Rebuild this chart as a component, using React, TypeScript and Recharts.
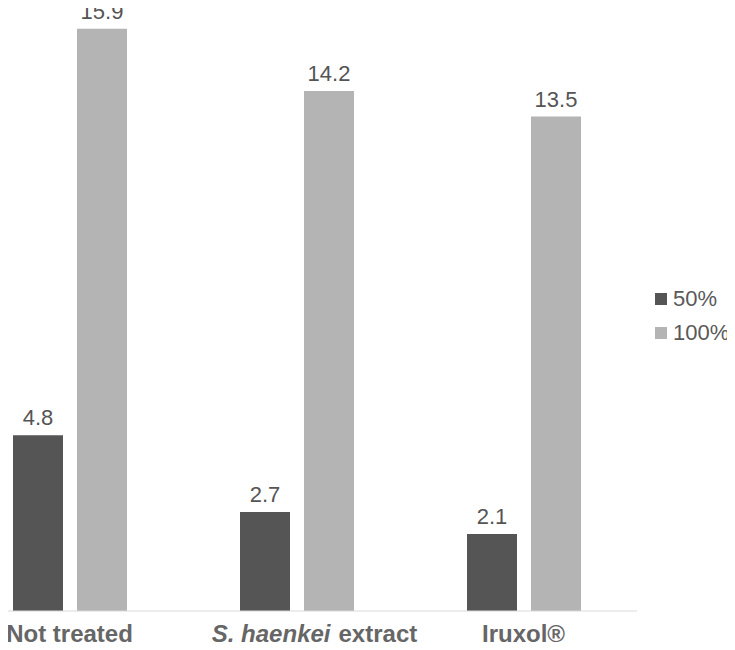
import { Bar, BarChart, LabelList, XAxis, YAxis } from "recharts";

const categories = ["Not treated", "S. haenkei extract", "Iruxol®"];
const half = [4.8, 2.7, 2.1];
const full = [15.9, 14.2, 13.5];

const seriesNames = ["50%", "100%"];
const seriesColors = ["#555555", "#b4b4b4"];

const data = categories.map((name, i) => ({
  name,
  half: half[i],
  full: full[i],
}));

const font = "'Liberation Sans', Arial, sans-serif";

function CategoryTick({ x, y, payload }: any) {
  const label: string = payload.value;
  const common = {
    y,
    dy: "0.71em",
    textAnchor: "middle" as const,
    fontFamily: font,
    fontSize: 24,
    fontWeight: 700,
    fill: "#666666",
  };
  if (label.startsWith("S. haenkei")) {
    return (
      <text x={x + 18} {...common}>
        <tspan fontStyle="italic">S. haenkei</tspan>
        <tspan dx={8}>extract</tspan>
      </text>
    );
  }
  return (
    <text x={x} {...common}>
      {label}
    </text>
  );
}

export default function App() {
  return (
    <div
      style={{
        margin: -8,
        width: 735,
        height: 650,
        overflow: "hidden",
        position: "relative",
        background: "#fff",
        fontFamily: font,
      }}
    >
      <div style={{ marginLeft: -44 }}>
        <BarChart
          width={779}
          height={650}
          data={data}
          barSize={50}
          barGap={14}
          margin={{ top: 25, right: 98, left: 0, bottom: 0 }}
        >
          <XAxis
            dataKey="name"
            height={39}
            axisLine={{ stroke: "#d9d9d9", strokeWidth: 1 }}
            tickLine={false}
            tickSize={0}
            tickMargin={14}
            interval={0}
            tick={<CategoryTick />}
          />
          <YAxis hide domain={[0, 16]} />
          <Bar
            dataKey="half"
            name={seriesNames[0]}
            fill={seriesColors[0]}
            isAnimationActive={false}
          >
            <LabelList
              dataKey="half"
              position="top"
              offset={10}
              fill="#555555"
              fontSize={22}
              fontFamily={font}
            />
          </Bar>
          <Bar
            dataKey="full"
            name={seriesNames[1]}
            fill={seriesColors[1]}
            isAnimationActive={false}
          >
            <LabelList
              dataKey="full"
              position="top"
              offset={10}
              fill="#555555"
              fontSize={22}
              fontFamily={font}
            />
          </Bar>
        </BarChart>
      </div>
      <div style={{ position: "absolute", left: 655, top: 282 }}>
        {seriesNames.map((name, i) => (
          <div
            key={name}
            style={{
              display: "flex",
              alignItems: "center",
              height: 34,
              color: "#595959",
              fontSize: 22,
            }}
          >
            <span
              style={{
                width: 12,
                height: 12,
                background: seriesColors[i],
                marginRight: 6,
                display: "inline-block",
              }}
            />
            {name}
          </div>
        ))}
      </div>
    </div>
  );
}
